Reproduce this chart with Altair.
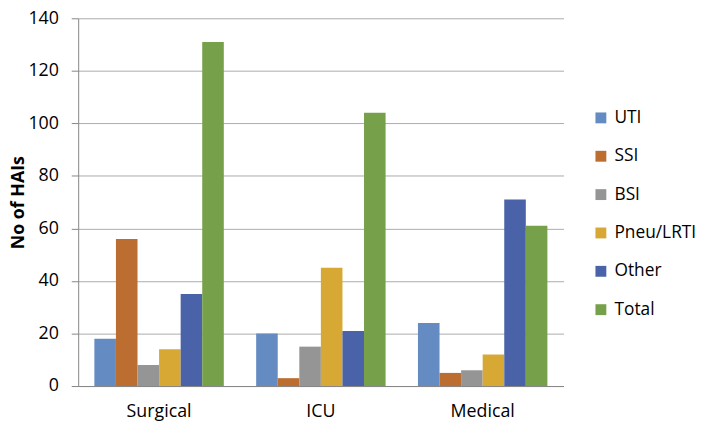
import altair as alt
import pandas as pd

categories = ["Surgical", "ICU", "Medical"]
series = ["UTI", "SSI", "BSI", "Pneu/LRTI", "Other", "Total"]
uti = [18, 20, 24]
ssi = [56, 3, 5]
bsi = [8, 15, 6]
pneu = [14, 45, 12]
other = [35, 21, 71]
total = [131, 104, 61]
colors = ["#658BC3", "#BC6E31", "#959595", "#D7A833", "#4A63A8", "#77A04A"]
y_ticks = [0, 20, 40, 60, 80, 100, 120, 140]

rows = []
for name, vals in zip(series, [uti, ssi, bsi, pneu, other, total]):
    for c, v in zip(categories, vals):
        rows.append({"Ward": c, "Type": name, "Count": v})
df = pd.DataFrame(rows)

FONT = "Open Sans"

chart = alt.Chart(df).mark_bar().encode(
    x=alt.X(
        "Ward:N",
        sort=categories,
        scale=alt.Scale(paddingInner=0.2, paddingOuter=0.1),
        axis=alt.Axis(
            title=None, labelAngle=0, ticks=False, domain=True,
            domainColor="#868686", labelFontSize=18, labelPadding=17,
            labelFont=FONT, labelColor="black",
        ),
    ),
    xOffset=alt.XOffset("Type:N", sort=series,
                        scale=alt.Scale(paddingInner=0, paddingOuter=0)),
    y=alt.Y(
        "Count:Q",
        scale=alt.Scale(domain=[0, 140], nice=False),
        axis=alt.Axis(
            values=y_ticks, title="No of HAIs", titleFont=FONT,
            titleFontSize=18, titleFontWeight="bold", titleColor="black",
            titlePadding=0, labelFont=FONT, labelFontSize=18,
            labelColor="black", labelPadding=13, tickSize=7,
            tickColor="#868686", domainColor="#868686",
            gridColor="#ABABAB", grid=True,
        ),
    ),
    color=alt.Color(
        "Type:N",
        sort=series,
        scale=alt.Scale(domain=series, range=colors),
        legend=alt.Legend(
            title=None, orient="none", legendX=520, legendY=92,
            symbolType="square", symbolSize=121, symbolStrokeWidth=0,
            labelFont=FONT, labelFontSize=17.5, labelColor="black",
            rowPadding=19.8, padding=0, labelOffset=5,
        ),
    ),
).properties(
    width=491,
    height=372,
    autosize=alt.AutoSizeParams(type="none"),
    padding={"left": 71, "top": 8, "right": 137, "bottom": 37},
).configure_view(stroke=None)

chart.save("out.html", embed_options={"renderer": "svg", "actions": False})
